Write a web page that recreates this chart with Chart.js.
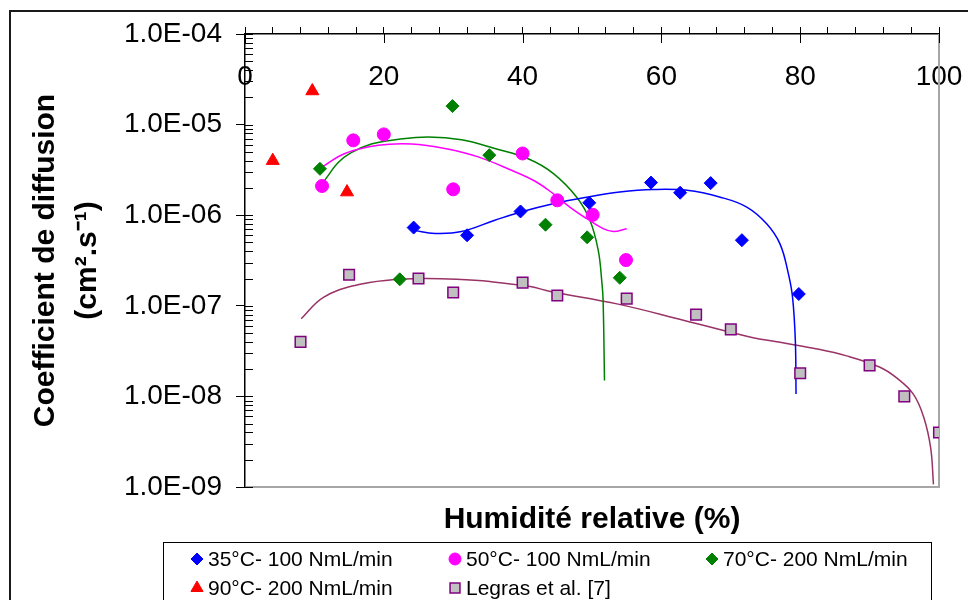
<!DOCTYPE html>
<html>
<head>
<meta charset="utf-8">
<script src="https://cdn.jsdelivr.net/npm/chart.js@4.4.1/dist/chart.umd.min.js"></script>
<style>
  body { margin: 0; background: #fff; overflow: hidden; font-family: 'Liberation Sans', Arial, sans-serif; }
  #wrap { position: relative; width: 968px; height: 600px; overflow: hidden; }
  #frame { position: absolute; left: 9px; top: 10px; width: 1000px; height: 1000px; border: 2px solid #1a1a1a; }
  #chart { position: absolute; left: 0; top: 0; }
  #legend {
    position: absolute; left: 163px; top: 542px; width: 769px; height: 80px;
    border: 1px solid #000; box-sizing: border-box; padding: 1px 0 0 25px;
    display: grid; grid-template-columns: 258px 257px 250px; grid-auto-rows: 29px;
  }
  .item { display: flex; align-items: center; font-size: 21px; color: #000; white-space: nowrap; }
  .item canvas { width: 16px; height: 16px; margin-right: 3px; }
</style>
</head>
<body>
<div id="wrap">
  <div id="frame"></div>
  <canvas id="chart" width="968" height="600"></canvas>
  <div id="legend"></div>
</div>
<script>
// --- mesures (HR %, coefficient de diffusion cm2/s)
const rh35 = [24.3, 32.0, 39.7, 49.6, 58.5, 62.7, 67.1, 71.6, 79.8];
const d35 = [7.3e-7, 6.0e-7, 1.1e-6, 1.37e-6, 2.29e-6, 1.77e-6, 2.26e-6, 5.3e-7, 1.35e-7];

const rh50 = [11.1, 15.6, 20.0, 30.0, 40.0, 45.0, 50.1, 54.9];
const d50 = [2.1e-6, 6.7e-6, 7.8e-6, 1.93e-6, 4.8e-6, 1.46e-6, 1.01e-6, 3.2e-7];

const rh70 = [10.8, 22.3, 29.9, 35.2, 43.3, 49.3, 54.0];
const d70 = [3.25e-6, 1.96e-7, 1.6e-5, 4.6e-6, 7.85e-7, 5.7e-7, 2.04e-7];

const rh90 = [4.0, 9.7, 14.7];
const d90 = [4.0e-6, 2.35e-5, 1.8e-6];

const rhLegras = [8, 15, 25, 30, 40, 45, 55, 65, 70, 80, 90, 95, 100];
const dLegras = [4.0e-8, 2.2e-7, 2.0e-7, 1.4e-7, 1.8e-7, 1.3e-7, 1.2e-7, 8.0e-8, 5.5e-8, 1.8e-8, 2.2e-8, 1.0e-8, 4.0e-9];

// --- courbes de tendance
const fit35X = [24.3, 27.4, 31.2, 36.0, 39.6, 44.4, 49.2, 54.0, 58.8, 63.7, 68.5, 72.3, 75.2, 77.1, 78.3, 78.9, 79.3, 79.4];
const fit35Y = [6.8e-7, 6.3e-7, 6.6e-7, 8.8e-7, 1.08e-6, 1.34e-6, 1.58e-6, 1.80e-6, 1.92e-6, 1.88e-6, 1.58e-6, 1.23e-6, 8.0e-7, 4.8e-7, 2.25e-7, 1.24e-7, 4.1e-8, 1.06e-8];

const fit50X = [11.1, 14.4, 19.2, 24.0, 28.8, 33.6, 38.4, 41.8, 44.4, 46.8, 49.2, 51.6, 53.1, 55.0];
const fit50Y = [3.4e-6, 4.8e-6, 5.9e-6, 6.1e-6, 5.45e-6, 4.4e-6, 3.13e-6, 2.37e-6, 1.73e-6, 1.23e-6, 9.2e-7, 7.1e-7, 6.6e-7, 7.1e-7];

const fit70X = [10.9, 12.0, 13.4, 15.3, 18.2, 21.6, 26.4, 31.2, 36.0, 40.8, 44.4, 47.8, 49.7, 50.9, 51.4, 51.6, 51.8];
const fit70Y = [2.1e-6, 2.75e-6, 3.8e-6, 4.9e-6, 6.1e-6, 6.8e-6, 7.3e-6, 6.8e-6, 5.45e-6, 4.2e-6, 2.9e-6, 1.58e-6, 8.8e-7, 4.1e-7, 1.9e-7, 1.14e-7, 1.5e-8];

const fitLegrasX = [8.1, 11.3, 16.1, 20.9, 25.7, 30.5, 35.3, 41.1, 44.0, 53.6, 63.3, 72.9, 77.1, 81.9, 86.7, 91.5, 93.9, 96.3, 97.8, 98.8, 99.2];
const fitLegrasY = [7.2e-8, 1.24e-7, 1.7e-7, 1.93e-7, 2.0e-7, 1.96e-7, 1.85e-7, 1.63e-7, 1.44e-7, 1.05e-7, 6.9e-8, 4.5e-8, 3.95e-8, 3.4e-8, 2.8e-8, 2.1e-8, 1.6e-8, 1.06e-8, 5.9e-9, 2.7e-9, 1.07e-9];

// --- axes
const yDecades = [1e-9, 1e-8, 1e-7, 1e-6, 1e-5, 1e-4];
const yMinorSteps = [1, 2, 3, 4, 5, 6, 7, 8, 9];
const xTickStep = 4;
const xLabelEvery = 20;
const xTitle = 'Humidité relative (%)';
const yTitle = ['Coefficient de diffusion', '(cm².s⁻¹)'];

const FONT = "'Liberation Sans', Arial, sans-serif";
Chart.defaults.font.family = FONT;
Chart.defaults.color = '#000';

const pts = (xs, ys) => xs.map((x, i) => ({ x, y: ys[i] }));

const isDecade = v => Math.abs(Math.log10(v) - Math.round(Math.log10(v))) < 1e-6;

// valeurs des graduations log : 1..9 x 10^n
const yTickValues = [];
yDecades.forEach((d, i) => {
    if (i === yDecades.length - 1) { yTickValues.push(d); return; }
    yMinorSteps.forEach(m => yTickValues.push(m * d));
});

const markerSets = [
    { label: '35°C- 100 NmL/min', data: pts(rh35, d35), pointStyle: 'rectRot', pointRadius: 6.5, backgroundColor: '#0000ff', borderColor: '#0000ff', borderWidth: 1 },
    { label: '50°C- 100 NmL/min', data: pts(rh50, d50), pointStyle: 'circle', pointRadius: 6.5, backgroundColor: '#ff00ff', borderColor: '#ff00ff', borderWidth: 1 },
    { label: '70°C- 200 NmL/min', data: pts(rh70, d70), pointStyle: 'rectRot', pointRadius: 6.5, backgroundColor: '#008000', borderColor: '#008000', borderWidth: 1 },
    { label: '90°C- 200 NmL/min', data: pts(rh90, d90), pointStyle: 'triangle', pointRadius: 7.5, backgroundColor: '#ff0000', borderColor: '#ff0000', borderWidth: 1 },
    { label: 'Legras et al. [7]', data: pts(rhLegras, dLegras), pointStyle: 'rect', pointRadius: 7.5, backgroundColor: '#c0c0c0', borderColor: '#800080', borderWidth: 1.5 }
];

const curveSets = [
    { data: pts(fit35X, fit35Y), borderColor: '#0000ff' },
    { data: pts(fit50X, fit50Y), borderColor: '#ff00ff' },
    { data: pts(fit70X, fit70Y), borderColor: '#008000' },
    { data: pts(fitLegrasX, fitLegrasY), borderColor: '#993366' }
];

const datasets = [
    ...markerSets.map(s => ({ ...s, xAxisID: 'x', showLine: false, pointHoverRadius: s.pointRadius, order: 0 })),
    ...curveSets.map(s => ({
        ...s, xAxisID: 'x', showLine: true, pointRadius: 0, borderWidth: 1.5,
        tension: 0.4, fill: false, order: 1
    }))
];

// cadre gris (droite / bas) + graduations intérieures
const plotFrame = {
    id: 'plotFrame',
    beforeDatasetsDraw(chart) {
        const { ctx, chartArea: a, scales } = chart;
        ctx.save();
        ctx.strokeStyle = '#a6a6a6';
        ctx.lineWidth = 2;
        ctx.beginPath();
        ctx.moveTo(a.right, a.top);
        ctx.lineTo(a.right, a.bottom);
        ctx.lineTo(a.left + 1, a.bottom);
        ctx.stroke();

        ctx.strokeStyle = '#000';
        ctx.lineWidth = 1;
        ctx.beginPath();
        scales.y.ticks.forEach(t => {
            const py = Math.round(scales.y.getPixelForValue(t.value)) + 0.5;
            ctx.moveTo(a.left, py);
            ctx.lineTo(a.left + 8, py);
        });
        scales.x.ticks.forEach(t => {
            if (Math.round(t.value) % xLabelEvery !== 0) return;
            const px = Math.round(scales.x.getPixelForValue(t.value)) + 0.5;
            ctx.moveTo(px, a.top);
            ctx.lineTo(px, a.top + 9);
        });
        ctx.stroke();
        ctx.restore();
    }
};

const chart = new Chart(document.getElementById('chart'), {
    type: 'scatter',
    data: { datasets },
    options: {
        responsive: false,
        animation: false,
        events: [],
        layout: { padding: { top: 27, left: 10, right: 29, bottom: 62 } },
        plugins: { legend: { display: false }, tooltip: { enabled: false } },
        scales: {
            x: {
                type: 'linear', position: 'top', min: 0, max: 100,
                ticks: {
                    stepSize: xTickStep, autoSkip: false, maxRotation: 0, mirror: true, padding: 26,
                    color: '#000', font: { size: 28 },
                    callback: v => (Math.round(v) % xLabelEvery === 0 ? Math.round(v) : '')
                },
                grid: { drawOnChartArea: false, tickLength: 7, color: '#000', tickWidth: 1 },
                border: { color: '#000', width: 1.5 },
                afterFit: s => { s.height = 7; s.paddingLeft = 0; s.paddingRight = 0; }
            },
            x2: {
                type: 'linear', position: 'bottom', min: 0, max: 100,
                ticks: { display: false },
                grid: { display: false },
                border: { display: false },
                title: { display: true, text: xTitle, color: '#000', font: { size: 30, weight: 'bold' }, padding: { top: 7, bottom: 0 } }
            },
            y: {
                type: 'logarithmic', min: yDecades[0], max: yDecades[yDecades.length - 1],
                afterBuildTicks: s => { s.ticks = yTickValues.map(v => ({ value: v })); },
                ticks: {
                    autoSkip: false, padding: 14, color: '#000', font: { size: 28 },
                    callback: v => (isDecade(v) ? '1.0E-' + String(-Math.round(Math.log10(v))).padStart(2, '0') : '')
                },
                grid: {
                    drawOnChartArea: false, tickLength: 9, tickWidth: 1,
                    tickColor: c => (c.tick && isDecade(c.tick.value) ? '#000' : 'rgba(0,0,0,0)')
                },
                border: { color: '#000', width: 1.5 },
                title: { display: true, text: yTitle, color: '#000', font: { size: 30, weight: 'bold', lineHeight: 1.4 }, padding: { top: 15, bottom: 0 } },
                afterFit: s => { s.width = 235; }
            }
        }
    },
    plugins: [plotFrame]
});

// légende (3 colonnes, comme la figure)
const legendEl = document.getElementById('legend');
chart.data.datasets.filter(d => d.label).forEach(d => {
    const item = document.createElement('div');
    item.className = 'item';
    const c = document.createElement('canvas');
    c.width = 16; c.height = 16;
    const g = c.getContext('2d');
    g.fillStyle = d.backgroundColor;
    g.strokeStyle = d.borderColor;
    g.lineWidth = d.borderWidth;
    if (Chart.helpers && Chart.helpers.drawPoint) {
        Chart.helpers.drawPoint(g, { pointStyle: d.pointStyle, radius: d.pointRadius - 0.5, rotation: 0, borderWidth: d.borderWidth }, 8, 8);
    }
    const span = document.createElement('span');
    span.textContent = d.label;
    item.appendChild(c);
    item.appendChild(span);
    legendEl.appendChild(item);
});
</script>
</body>
</html>
